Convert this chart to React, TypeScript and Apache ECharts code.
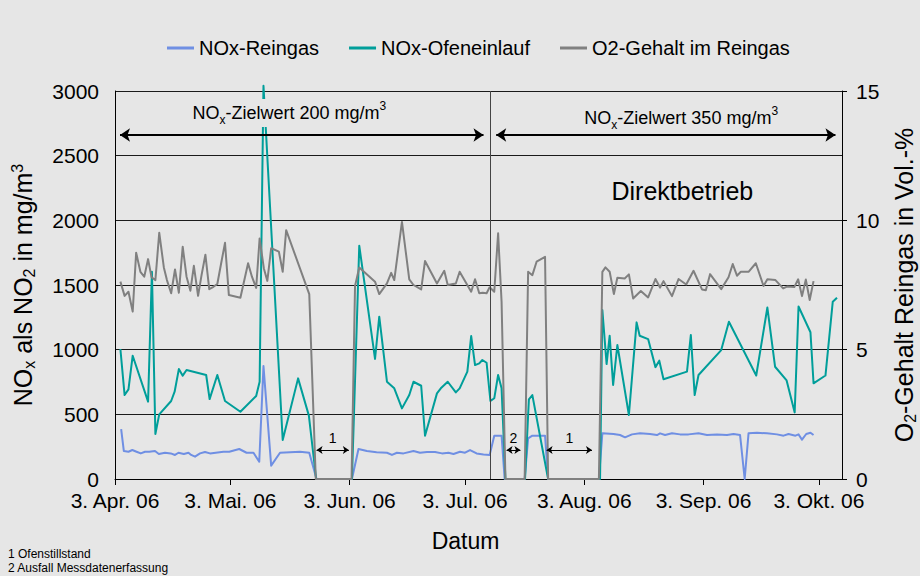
import React, { useEffect, useRef } from "react";
import * as echarts from "echarts";

// Days after 3 Apr 2006
const tickDays = [0, 30, 61, 91, 122, 153, 183];
const tickLabels = ["3. Apr. 06", "3. Mai. 06", "3. Jun. 06", "3. Jul. 06", "3. Aug. 06", "3. Sep. 06", "3. Okt. 06"];
const xMax = 189;

const seriesNames = ["NOx-Reingas", "NOx-Ofeneinlauf", "O2-Gehalt im Reingas"];

// [day, mg/m³]
const noxReingas: [number, number][] = [
  [1.6, 386], [2.3, 216], [3.5, 211], [4.5, 224], [5.6, 211], [6.7, 198], [7.8, 211], [8.9, 211], [10.4, 216],
  [11.4, 193], [13, 203], [14.5, 198], [15.6, 186], [16.5, 203], [17.9, 193], [19.1, 203], [19.8, 186], [20.8, 173],
  [22.1, 198], [23.4, 209], [24.7, 198], [28.2, 211], [29.7, 211], [32.3, 232], [34.2, 203], [36, 203], [37.5, 134],
  [38.6, 873], [40.6, 103], [42.9, 203], [48.1, 211], [50.5, 203], [52.4, 0], [61.6, 0], [63.3, 232], [65.5, 216],
  [68, 206], [70.7, 203], [72, 186], [73.3, 203], [75, 198], [77.6, 216], [79.3, 203], [81.1, 209], [83.2, 209],
  [85, 198], [86.7, 203], [88, 193], [89.7, 211], [91, 203], [92.3, 224], [94, 198], [95.8, 190], [97.4, 186],
  [98.6, 335], [100.5, 335], [101.3, 0], [106.5, 0], [107.4, 314], [108.5, 335], [111.8, 335], [112.6, 0],
  [125.8, 0], [126.7, 353], [129.6, 348], [131.3, 340], [132.6, 322], [134.4, 345], [136.5, 353], [139.1, 348],
  [140.9, 340], [141.7, 353], [143, 340], [144.8, 353], [146.9, 345], [149.1, 345], [151.7, 353], [153.9, 340],
  [156.5, 345], [159.1, 340], [160.8, 348], [162.5, 340], [163.7, 0], [164.7, 353], [166.9, 358], [169.5, 353],
  [172.1, 345], [173.8, 335], [175.1, 348], [176.9, 335], [177.7, 345], [178.6, 304], [179.7, 348], [180.8, 358],
  [181.6, 340],
];

// [day, mg/m³]
const noxOfeneinlauf: [number, number][] = [
  [1.4, 1005], [2.5, 649], [3.5, 693], [4.6, 953], [8.6, 598], [9.6, 1602], [10.5, 348], [11.5, 500], [14.6, 603],
  [15.5, 675], [16.6, 850], [17.6, 799], [18.6, 843], [23.7, 804], [24.6, 618], [26.6, 804], [28.6, 603], [32.6, 520],
  [36.7, 642], [37.6, 752], [38.6, 3040], [43.6, 301], [47.6, 778], [50.4, 490], [52.3, 0], [61.6, 0], [63.5, 1804],
  [67.6, 928], [68.7, 1255], [70.7, 752], [72.6, 701], [74.6, 546], [76.5, 649], [77.6, 752], [79.6, 721], [80.6, 335],
  [83.7, 662], [84.7, 701], [86.5, 752], [88.6, 670], [89.6, 701], [91.6, 830], [92.6, 1105], [93.6, 881], [94.7, 894],
  [95.5, 920], [96.6, 899], [97.6, 603], [98.6, 624], [99.6, 804], [100.5, 701], [101.5, 0], [106.6, 0], [107.6, 616],
  [108.5, 649], [112.6, 0], [126.1, 0], [126.7, 1306], [127.8, 889], [128.6, 1108], [129.5, 727], [130.6, 1036],
  [133.6, 495], [135.6, 1211], [136.4, 1108], [138.6, 1082], [140.5, 865], [141.5, 915], [142.6, 771], [148.7, 830],
  [149.7, 1113], [150.7, 649], [151.7, 804], [157.6, 997], [159.6, 1216], [166.7, 800], [169.6, 1326], [171.6, 868],
  [174.6, 762], [176.7, 515], [177.7, 1334], [180.8, 1135], [181.6, 740], [184.7, 800], [186.6, 1371], [187.7, 1402],
];

// [day, Vol.-%]
const o2Gehalt: [number, number][] = [
  [1.4, 7.63], [2.5, 7.08], [3.5, 7.24], [4.6, 6.47], [5.5, 8.75], [6.6, 8.01], [7.6, 7.82], [8.6, 8.5], [9.5, 7.8],
  [10.5, 7.69], [11.5, 9.52], [12.7, 8.18], [13.5, 7.69], [14.6, 7.18], [15.6, 8.1], [16.6, 7.2], [17.6, 8.98],
  [18.6, 7.82], [19.6, 7.28], [20.5, 8.24], [21.6, 7.08], [22.5, 7.88], [23.5, 8.67], [24.5, 7.34], [25.6, 7.43],
  [26.6, 7.54], [27.6, 8.34], [28.6, 9.13], [29.6, 7.11], [32.6, 7.01], [34.6, 8.34], [35.6, 7.82], [36.7, 7.39],
  [37.6, 9.3], [38.7, 8.14], [39.6, 7.66], [40.6, 8.92], [42.6, 8.79], [43.6, 8.01], [44.5, 9.62], [50.5, 7.15],
  [52.2, 0], [61.5, 0], [62.4, 7.46], [63.5, 8.18], [67.6, 7.63], [68.7, 7.15], [70.7, 7.56], [71.8, 7.97], [72.6, 7.69],
  [74.6, 9.94], [76.5, 7.72], [77.6, 7.5], [79.6, 7.33], [80.6, 8.43], [83.7, 7.56], [85.6, 8.05], [86.5, 7.5],
  [88.6, 7.56], [89.6, 8.01], [92.6, 7.24], [93.6, 7.72], [94.7, 7.18], [95.6, 7.2], [96.6, 7.18], [97.4, 7.41],
  [98.6, 7.24], [99.6, 9.5], [100.5, 6.85], [101.5, 0], [106.5, 0], [107.4, 8.01], [108.5, 7.88], [109.6, 8.4],
  [111.8, 8.59], [112.6, 0], [125.8, 0], [126.7, 8.01], [127.5, 8.18], [128.6, 8.01], [129.7, 7.15], [130.6, 7.78],
  [132.5, 7.75], [133.6, 7.91], [134.7, 6.98], [136.7, 7.27], [138.6, 7.02], [140.5, 7.73], [141.7, 7.4], [142.6, 7.65],
  [144.8, 7.07], [146.5, 7.73], [148.5, 7.52], [150.4, 8.05], [152.6, 7.33], [153.6, 7.3], [154.7, 7.92], [157.6, 7.34],
  [159.5, 7.8], [160.6, 8.31], [161.7, 7.86], [162.7, 8.01], [164.7, 8.01], [166.6, 8.34], [168.6, 7.46], [169.6, 7.72],
  [171.7, 7.69], [173.7, 7.37], [174.7, 7.44], [176.6, 7.42], [177.6, 7.72], [178.6, 7.07], [179.6, 7.71], [180.6, 6.92],
  [181.6, 7.65],
];

// Annotations (data units)
const zielwertSwitchDay = 97.5;
const zielwertArrowValue = 2660;
const zielwertRanges = [
  { from: 1.3, to: 95.8 },
  { from: 99.1, to: 187.3 },
];
const zielwertTexts = [
  { day: 45.3, value: 2829, amount: "200" },
  { day: 147.2, value: 2790, amount: "350" },
];
const direktbetrieb = { day: 147.5, value: 2226, text: "Direktbetrieb" };
const gapArrowValue = 224;
const gaps = [
  { label: "1", from: 52.4, to: 60.8 },
  { label: "2", from: 101.8, to: 105.4 },
  { label: "1", from: 112.2, to: 124 },
];
const footnotes = ["1 Ofenstillstand", "2 Ausfall Messdatenerfassung"];

const FONT = '"Liberation Sans", Arial, Helvetica, sans-serif';
const BLUE = "#6f8fe3";
const TEAL = "#009e9a";
const GRAY = "#808080";

export default function App() {
  const ref = useRef<HTMLDivElement>(null);

  useEffect(() => {
    if (!ref.current) return;
    const chart = echarts.init(ref.current, undefined, { renderer: "svg" });

    const subRich = (size: number, subSize: number, lh: number) => ({
      a: { fontSize: size, lineHeight: lh, color: "#000", fontFamily: FONT },
      s: { fontSize: subSize, lineHeight: subSize, verticalAlign: "bottom", color: "#000", fontFamily: FONT },
      p: { fontSize: subSize, lineHeight: subSize, verticalAlign: "top", color: "#000", fontFamily: FONT },
    });

    const option: any = {
      animation: false,
      backgroundColor: "#e6e6e6",
      textStyle: { fontFamily: FONT, color: "#000" },
      legend: {
        data: seriesNames,
        top: 38,
        left: 167,
        padding: 0,
        icon: "rect",
        itemWidth: 27,
        itemHeight: 3,
        itemGap: 30,
        textStyle: { fontSize: 20, color: "#000", fontFamily: FONT },
      },
      grid: { left: 115, right: 78, top: 91, bottom: 97, outerBoundsMode: "none", containLabel: false },
      xAxis: {
        type: "value",
        min: 0,
        max: xMax,
        name: "Datum",
        nameLocation: "middle",
        nameGap: 50,
        nameTextStyle: { fontSize: 23, color: "#000", fontFamily: FONT, padding: [0, 26, 0, 0] },
        axisLine: { show: true, lineStyle: { color: "#000", width: 1 } },
        axisTick: { show: true, length: 6, customValues: tickDays, lineStyle: { color: "#000" } },
        axisLabel: {
          customValues: tickDays,
          formatter: (v: number) => {
            const i = tickDays.indexOf(Math.round(v));
            return i >= 0 ? tickLabels[i] : "";
          },
          fontSize: 21,
          color: "#000",
          margin: 11,
          fontFamily: FONT,
        },
        splitLine: { show: false },
      },
      yAxis: [
        {
          type: "value",
          min: 0,
          max: 3000,
          interval: 500,
          position: "left",
          name: "{a|NO}{s|x}{a| als NO}{s|2}{a| in mg/m}{p|3}",
          nameLocation: "middle",
          nameRotate: 90,
          nameGap: 78,
          nameTextStyle: { rich: subRich(25, 16, 28) },
          axisLine: { show: true, lineStyle: { color: "#000", width: 1 } },
          axisTick: { show: false },
          axisLabel: {
            fontSize: 21,
            color: "#000",
            margin: 16,
            fontFamily: FONT,
            formatter: (v: number) => String(v),
          },
          splitLine: { show: true, lineStyle: { color: "#1a1a1a", width: 1 } },
        },
        {
          type: "value",
          min: 0,
          max: 15,
          interval: 5,
          position: "right",
          name: "{a|O}{s|2}{a|-Gehalt Reingas in Vol.-%}",
          nameLocation: "middle",
          nameRotate: 90,
          nameGap: 48,
          nameTextStyle: { rich: subRich(25, 16, 28) },
          axisLine: { show: true, lineStyle: { color: "#000", width: 1 } },
          axisTick: { show: true, inside: false, length: 5, lineStyle: { color: "#000" } },
          axisLabel: {
            fontSize: 21,
            color: "#000",
            margin: 14,
            fontFamily: FONT,
            formatter: (v: number) => String(v),
          },
          splitLine: { show: false },
        },
      ],
      series: [
        {
          name: seriesNames[0],
          type: "line",
          yAxisIndex: 0,
          data: noxReingas,
          symbol: "none",
          showSymbol: false,
          clip: false,
          lineStyle: { color: BLUE, width: 2, join: "round" },
          itemStyle: { color: BLUE },
        },
        {
          name: seriesNames[1],
          type: "line",
          yAxisIndex: 0,
          data: noxOfeneinlauf,
          symbol: "none",
          showSymbol: false,
          clip: false,
          lineStyle: { color: TEAL, width: 2, join: "round" },
          itemStyle: { color: TEAL },
        },
        {
          name: seriesNames[2],
          type: "line",
          yAxisIndex: 1,
          data: o2Gehalt,
          symbol: "none",
          showSymbol: false,
          clip: false,
          lineStyle: { color: GRAY, width: 2, join: "round" },
          itemStyle: { color: GRAY },
        },
        {
          name: "divider",
          type: "line",
          yAxisIndex: 0,
          data: [],
          markLine: {
            silent: true,
            symbol: ["none", "none"],
            label: { show: false },
            lineStyle: { color: "#444", width: 1, type: "solid" },
            data: [{ xAxis: zielwertSwitchDay }],
          },
        },
        {
          name: "zielArrows",
          type: "line",
          yAxisIndex: 0,
          data: [],
          markLine: {
            silent: true,
            symbol: ["arrow", "arrow"],
            symbolSize: 10,
            label: { show: false },
            lineStyle: { color: "#000", width: 2, type: "solid" },
            data: zielwertRanges.map((r) => [
              { coord: [r.from, zielwertArrowValue] },
              { coord: [r.to, zielwertArrowValue] },
            ]),
          },
        },
        {
          name: "gapArrows",
          type: "line",
          yAxisIndex: 0,
          data: [],
          markLine: {
            silent: true,
            symbol: ["arrow", "arrow"],
            symbolSize: 6,
            label: {
              show: true,
              position: "insideMiddleTop",
              distance: 5,
              formatter: "{b}",
              fontSize: 14,
              color: "#000",
              fontFamily: FONT,
            },
            lineStyle: { color: "#000", width: 1, type: "solid" },
            data: gaps.map((g) => [
              { name: g.label, coord: [g.from, gapArrowValue] },
              { coord: [g.to, gapArrowValue] },
            ]),
          },
        },
        {
          name: "texts",
          type: "line",
          yAxisIndex: 0,
          data: [],
          z: 10,
          markPoint: {
            silent: true,
            symbol: "rect",
            symbolSize: 1,
            itemStyle: { color: "rgba(0,0,0,0)" },
            data: [
              ...zielwertTexts.map((t) => ({
                coord: [t.day, t.value],
                name: t.amount,
                label: {
                  show: true,
                  position: "inside",
                  formatter: `{a|NO}{s|x}{a|-Zielwert ${t.amount} mg/m}{p|3}`,
                  backgroundColor: "#e6e6e6",
                  padding: [1, 4, 1, 4],
                  rich: subRich(18, 12, 26),
                },
              })),
              {
                coord: [direktbetrieb.day, direktbetrieb.value],
                name: direktbetrieb.text,
                label: {
                  show: true,
                  position: "inside",
                  formatter: direktbetrieb.text,
                  fontSize: 25,
                  color: "#000",
                  fontFamily: FONT,
                },
              },
            ],
          },
        },
      ],
      graphic: footnotes.map((t, i) => ({
        type: "text",
        left: 8,
        top: 548 + i * 14,
        style: { text: t, fontSize: 12, fill: "#000", fontFamily: FONT },
      })),
    };

    chart.setOption(option);
    return () => chart.dispose();
  }, []);

  return (
    <div
      ref={ref}
      style={{ position: "absolute", left: 0, top: 0, width: 920, height: 576 }}
    />
  );
}
